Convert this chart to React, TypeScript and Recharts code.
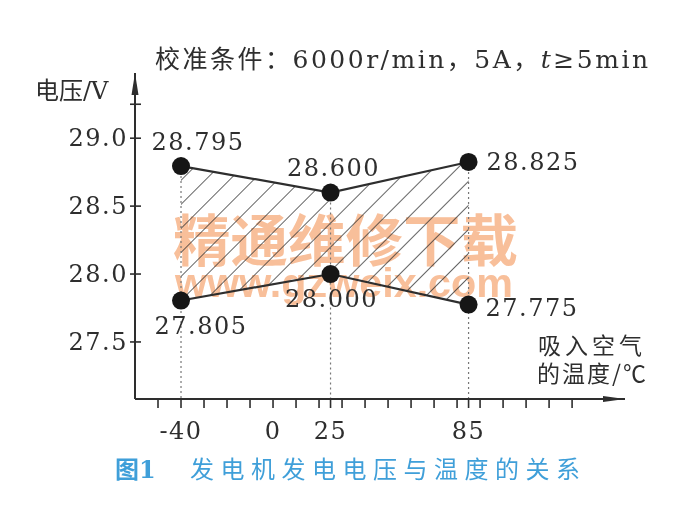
import {
  Area,
  ComposedChart,
  Customized,
  LabelList,
  Line,
  ReferenceDot,
  ReferenceLine,
  XAxis,
  YAxis,
} from "recharts";

// intake air temperature (°C) and generator output voltage (V)
const temps = [-40, 25, 85];
const upperVolts = [28.795, 28.6, 28.825];
const lowerVolts = [27.805, 28.0, 27.775];

const xTicks = [-50, -40, -30, -20, -10, 0, 10, 20, 25, 30, 40, 50, 60, 70, 80, 85, 90, 100, 110, 120, 130];
const xLabeled = [-40, 0, 25, 85];
const yTicks = [27.5, 28.0, 28.5, 29.0, 29.25];
const yLabeled = [27.5, 28.0, 28.5, 29.0];

const X_DOMAIN: [number, number] = [-60, 153];
const Y_DOMAIN: [number, number] = [27.08, 29.48];

const INK = "#2e2e2e";
const SERIF = "'DejaVu Serif', 'Noto Sans CJK SC', serif";
const CJK = "'Noto Sans CJK SC', 'DejaVu Serif', sans-serif";

const data = temps.map((t, i) => ({
  t,
  upper: upperVolts[i],
  lower: lowerVolts[i],
  band: [lowerVolts[i], upperVolts[i]],
}));

type Place = { dx: number; dy: number; anchor: "start" | "middle" | "end" };
const upperPlace: Place[] = [
  { dx: 17, dy: -24, anchor: "middle" },
  { dx: 3, dy: -25, anchor: "middle" },
  { dx: 18, dy: 0, anchor: "start" },
];
const lowerPlace: Place[] = [
  { dx: 20, dy: 25, anchor: "middle" },
  { dx: 1, dy: 25, anchor: "middle" },
  { dx: 17, dy: 3, anchor: "start" },
];

const valueLabel = (places: Place[]) => (props: any) => {
  const { x, y, value, index } = props;
  const p = places[index];
  return (
    <text
      x={x + p.dx}
      y={y + p.dy}
      textAnchor={p.anchor}
      dominantBaseline="central"
      fontFamily={SERIF}
      fontSize={24}
      letterSpacing={1.5}
      fill={INK}
    >
      {Number(value).toFixed(3)}
    </text>
  );
};

const YTick = (props: any) => {
  const { x, y, payload } = props;
  const v = payload.value as number;
  return (
    <g>
      <line x1={x - 5} x2={x + 6} y1={y} y2={y} stroke={INK} strokeWidth={1.6} />
      {yLabeled.includes(v) ? (
        <text
          x={x - 7}
          y={y}
          textAnchor="end"
          dominantBaseline="central"
          fontFamily={SERIF}
          fontSize={24}
          letterSpacing={1.5}
          fill={INK}
        >
          {v.toFixed(1)}
        </text>
      ) : null}
    </g>
  );
};

const Texts = () => (
  <g>
    <text
      x={155}
      y={68}
      fontFamily={SERIF}
      fontSize={25}
      textLength={493}
      lengthAdjust="spacing"
      fill={INK}
    >
      <tspan fontFamily={CJK}>校准条件：</tspan>
      <tspan>6000r/min</tspan>
      <tspan fontFamily={CJK}>，</tspan>
      <tspan>5A</tspan>
      <tspan fontFamily={CJK}>，</tspan>
      <tspan fontStyle="italic">t</tspan>
      <tspan>≥5min</tspan>
    </text>
    <text x={35} y={99} fontFamily={SERIF} fontSize={24} fill={INK}>
      <tspan fontFamily={CJK}>电压</tspan>
      <tspan>/V</tspan>
    </text>
    <text x={538} y={354} fontFamily={CJK} fontSize={23} letterSpacing={4} fill={INK}>
      吸入空气
    </text>
    <text x={537} y={382} fontFamily={CJK} fontSize={23} letterSpacing={2} fill={INK}>
      的温度/℃
    </text>
    <text x={115} y={478} fontFamily={SERIF} fontSize={24} fontWeight={700} fill="#3f9fd9">
      <tspan fontFamily={CJK}>图</tspan>
      <tspan>1</tspan>
    </text>
    <text
      x={190}
      y={478}
      fontFamily={CJK}
      fontSize={24}
      textLength={390}
      lengthAdjust="spacing"
      fill="#3f9fd9"
    >
      发电机发电电压与温度的关系
    </text>
  </g>
);

const Watermark = () => (
  <g style={{ mixBlendMode: "multiply" }} fill="#f8bf9a">
    <text
      x={173}
      y={261}
      fontFamily={CJK}
      fontSize={56}
      fontWeight={700}
      textLength={345}
      lengthAdjust="spacingAndGlyphs"
    >
      精通维修下载
    </text>
    <text
      x={175}
      y={297}
      fontFamily="'Liberation Sans', Arial, sans-serif"
      fontSize={40}
      fontWeight={700}
      textLength={338}
      lengthAdjust="spacingAndGlyphs"
    >
      www.gzweix.com
    </text>
  </g>
);

export default function App() {
  return (
    <div style={{ position: "absolute", left: 0, top: 0, background: "#fff" }}>
      <ComposedChart
        width={693}
        height={509}
        data={data}
        margin={{ top: 73, right: 68, left: 75, bottom: 70 }}
      >
        <defs>
          <pattern
            id="hatch"
            width={17}
            height={17}
            patternUnits="userSpaceOnUse"
            patternTransform="rotate(45)"
          >
            <line x1={0} y1={0} x2={0} y2={17} stroke="#2f2f2f" strokeWidth={1.5} />
          </pattern>
        </defs>
        <XAxis
          dataKey="t"
          type="number"
          domain={X_DOMAIN}
          allowDataOverflow
          ticks={xTicks}
          interval={0}
          tickFormatter={(v: number) => (xLabeled.includes(v) ? String(v) : "")}
          tickSize={9}
          tickMargin={14}
          height={40}
          axisLine={{ stroke: INK, strokeWidth: 2 }}
          tickLine={{ stroke: INK, strokeWidth: 1.6 }}
          tick={{ fontFamily: SERIF, fontSize: 24, fill: INK, letterSpacing: 1.5 }}
        />
        <YAxis
          type="number"
          domain={Y_DOMAIN}
          allowDataOverflow
          ticks={yTicks}
          interval={0}
          width={60}
          tickSize={0}
          tickMargin={0}
          tickLine={false}
          axisLine={{ stroke: INK, strokeWidth: 2 }}
          tick={<YTick />}
        />
        <Area
          dataKey="band"
          type="linear"
          fill="url(#hatch)"
          fillOpacity={1}
          stroke="none"
          isAnimationActive={false}
        />
        {temps.map((t, i) => (
          <ReferenceLine
            key={t}
            segment={[
              { x: t, y: upperVolts[i] },
              { x: t, y: Y_DOMAIN[0] },
            ]}
            stroke="#777"
            strokeWidth={1.2}
            strokeDasharray="2 3"
          />
        ))}
        <Line
          dataKey="upper"
          type="linear"
          stroke={INK}
          strokeWidth={2.2}
          dot={{ r: 9, fill: "#161616", stroke: "none" }}
          isAnimationActive={false}
        >
          <LabelList dataKey="upper" content={valueLabel(upperPlace)} />
        </Line>
        <Line
          dataKey="lower"
          type="linear"
          stroke={INK}
          strokeWidth={2.2}
          dot={{ r: 9, fill: "#161616", stroke: "none" }}
          isAnimationActive={false}
        >
          <LabelList dataKey="lower" content={valueLabel(lowerPlace)} />
        </Line>
        {/* arrowheads at the ends of both axes */}
        <ReferenceDot
          x={X_DOMAIN[1]}
          y={Y_DOMAIN[0]}
          ifOverflow="visible"
          shape={(p: any) => (
            <path d={`M${p.cx},${p.cy} L${p.cx - 22},${p.cy - 3} L${p.cx - 22},${p.cy + 3} Z`} fill={INK} />
          )}
        />
        <ReferenceDot
          x={X_DOMAIN[0]}
          y={Y_DOMAIN[1]}
          ifOverflow="visible"
          shape={(p: any) => (
            <path d={`M${p.cx},${p.cy} L${p.cx - 3.5},${p.cy + 22} L${p.cx + 3.5},${p.cy + 22} Z`} fill={INK} />
          )}
        />
        <Customized component={Texts} />
        <Customized component={Watermark} />
      </ComposedChart>
    </div>
  );
}
